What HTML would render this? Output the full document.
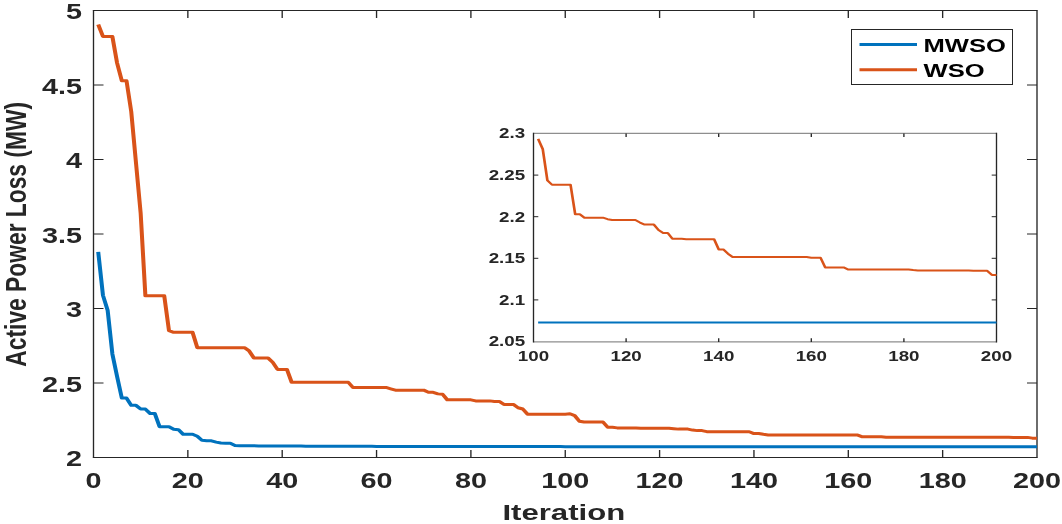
<!DOCTYPE html>
<html><head><meta charset="utf-8"><title>Active Power Loss vs Iteration</title>
<style>html,body{margin:0;padding:0;background:#fff;width:1062px;height:524px;overflow:hidden;font-family:"Liberation Sans",sans-serif;}svg{display:block;will-change:transform}</style>
</head><body>
<svg width="1062" height="524" viewBox="0 0 1062 524" font-family="Liberation Sans, sans-serif" font-weight="bold"><rect x="93.5" y="10.5" width="943.5" height="447.0" fill="#fff"/>
<path d="M92.83 10.50H1037.67M92.83 457.50H1037.67M93.50 457.50H103.50M1037.00 457.50H1027.00M93.50 383.00H103.50M1037.00 383.00H1027.00M93.50 308.50H103.50M1037.00 308.50H1027.00M93.50 234.00H103.50M1037.00 234.00H1027.00M93.50 159.50H103.50M1037.00 159.50H1027.00M93.50 85.00H103.50M1037.00 85.00H1027.00M93.50 10.50H103.50M1037.00 10.50H1027.00" stroke="#262626" stroke-width="1" fill="none"/>
<path d="M93.50 10.50V457.50M1037.00 10.50V457.50M93.50 457.50V450.10M93.50 10.50V17.90M187.85 457.50V450.10M187.85 10.50V17.90M282.20 457.50V450.10M282.20 10.50V17.90M376.55 457.50V450.10M376.55 10.50V17.90M470.90 457.50V450.10M470.90 10.50V17.90M565.25 457.50V450.10M565.25 10.50V17.90M659.60 457.50V450.10M659.60 10.50V17.90M753.95 457.50V450.10M753.95 10.50V17.90M848.30 457.50V450.10M848.30 10.50V17.90M942.65 457.50V450.10M942.65 10.50V17.90M1037.00 457.50V450.10M1037.00 10.50V17.90" stroke="#262626" stroke-width="1.34" fill="none"/>
<g transform="scale(1.340,1)" fill="none" stroke-linejoin="round" stroke-linecap="butt">
<polyline points="73.30,24.51 76.82,36.43 80.34,36.43 83.86,36.43 87.38,62.95 90.90,80.83 94.42,80.83 97.94,111.67 101.46,162.48 104.98,213.44 108.50,295.84 112.02,295.84 115.54,295.84 119.06,295.84 122.58,295.84 126.10,330.70 129.62,332.34 133.15,332.34 136.67,332.34 140.19,332.34 143.71,332.34 147.23,347.69 150.75,347.69 154.27,347.69 157.79,347.69 161.31,347.69 164.83,347.69 168.35,347.69 171.87,347.69 175.39,347.69 178.91,347.69 182.43,347.69 185.95,350.97 189.47,357.97 192.99,357.97 196.51,357.97 200.04,357.97 203.56,362.44 207.08,369.44 210.60,369.44 214.12,369.44 217.64,382.25 221.16,382.25 224.68,382.25 228.20,382.25 231.72,382.25 235.24,382.25 238.76,382.25 242.28,382.25 245.80,382.25 249.32,382.25 252.84,382.25 256.36,382.25 259.88,382.25 263.40,387.47 266.93,387.47 270.45,387.47 273.97,387.47 277.49,387.47 281.01,387.47 284.53,387.47 288.05,387.47 291.57,388.81 295.09,390.15 298.61,390.15 302.13,390.15 305.65,390.15 309.17,390.15 312.69,390.15 316.21,390.15 319.73,392.30 323.25,392.30 326.77,393.88 330.29,394.18 333.82,399.84 337.34,399.84 340.86,399.84 344.38,399.84 347.90,399.84 351.42,399.84 354.94,400.88 358.46,400.88 361.98,400.88 365.50,400.88 369.02,401.48 372.54,401.48 376.06,404.46 379.58,404.46 383.10,404.46 386.62,407.73 390.14,409.00 393.66,414.14 397.18,414.14 400.71,414.14 404.23,414.14 407.75,414.14 411.27,414.14 414.79,414.14 418.31,414.14 421.83,414.14 425.35,413.77 428.87,415.60 432.39,421.20 435.91,421.98 439.43,421.98 442.95,421.98 446.47,421.98 449.99,421.98 453.51,427.25 457.03,427.25 460.55,427.88 464.07,427.88 467.60,427.88 471.12,427.88 474.64,427.88 478.16,428.15 481.68,428.30 485.20,428.30 488.72,428.30 492.24,428.30 495.76,428.30 499.28,428.30 502.80,428.74 506.32,429.12 509.84,429.12 513.36,429.12 516.88,430.08 520.40,430.61 523.92,430.61 527.44,431.63 530.96,431.63 534.49,431.63 538.01,431.72 541.53,431.72 545.05,431.72 548.57,431.72 552.09,431.72 555.61,431.72 559.13,431.72 562.65,433.56 566.17,433.56 569.69,434.33 573.21,434.91 576.73,434.91 580.25,434.91 583.77,434.91 587.29,434.91 590.81,434.91 594.33,434.91 597.85,434.91 601.38,434.91 604.90,434.91 608.42,434.91 611.94,434.91 615.46,434.91 618.98,434.91 622.50,434.91 626.02,434.91 629.54,434.91 633.06,435.05 636.58,435.05 640.10,435.05 643.62,436.79 647.14,436.79 650.66,436.79 654.18,436.79 657.70,436.79 661.22,437.16 664.74,437.16 668.26,437.16 671.79,437.16 675.31,437.16 678.83,437.16 682.35,437.16 685.87,437.16 689.39,437.16 692.91,437.16 696.43,437.16 699.95,437.16 703.47,437.16 706.99,437.16 710.51,437.27 714.03,437.34 717.55,437.34 721.07,437.34 724.59,437.34 728.11,437.34 731.63,437.34 735.15,437.34 738.68,437.34 742.20,437.34 745.72,437.34 749.24,437.34 752.76,437.34 756.28,437.39 759.80,437.39 763.32,437.39 766.84,437.39 770.36,438.13 773.88,438.13" stroke="#D95319" stroke-width="3"/>
<polyline points="73.30,251.88 76.82,295.24 80.34,310.44 83.86,353.95 87.38,376.44 90.90,398.05 94.42,398.05 97.94,405.35 101.46,405.35 104.98,409.07 108.50,409.07 112.02,413.55 115.54,413.55 119.06,426.66 122.58,426.66 126.10,426.66 129.62,429.19 133.15,429.70 136.67,434.26 140.19,434.26 143.71,434.26 147.23,436.30 150.75,440.36 154.27,440.81 157.79,440.81 161.31,442.15 164.83,443.05 168.35,443.20 171.87,443.20 175.39,445.43 178.91,445.80 182.43,445.80 185.95,445.80 189.47,445.80 192.99,445.95 196.51,445.95 200.04,445.95 203.56,445.95 207.08,445.95 210.60,445.95 214.12,445.95 217.64,445.95 221.16,445.95 224.68,445.95 228.20,446.18 231.72,446.18 235.24,446.18 238.76,446.18 242.28,446.18 245.80,446.18 249.32,446.18 252.84,446.18 256.36,446.18 259.88,446.18 263.40,446.18 266.93,446.18 270.45,446.18 273.97,446.18 277.49,446.18 281.01,446.40 284.53,446.40 288.05,446.40 291.57,446.40 295.09,446.40 298.61,446.40 302.13,446.40 305.65,446.40 309.17,446.40 312.69,446.40 316.21,446.40 319.73,446.40 323.25,446.40 326.77,446.40 330.29,446.40 333.82,446.40 337.34,446.40 340.86,446.40 344.38,446.40 347.90,446.40 351.42,446.55 354.94,446.55 358.46,446.55 361.98,446.55 365.50,446.55 369.02,446.55 372.54,446.55 376.06,446.55 379.58,446.55 383.10,446.55 386.62,446.55 390.14,446.55 393.66,446.55 397.18,446.55 400.71,446.55 404.23,446.55 407.75,446.55 411.27,446.55 414.79,446.55 418.31,446.55 421.83,446.64 425.35,446.64 428.87,446.64 432.39,446.64 435.91,446.64 439.43,446.64 442.95,446.64 446.47,446.64 449.99,446.64 453.51,446.64 457.03,446.64 460.55,446.64 464.07,446.64 467.60,446.64 471.12,446.64 474.64,446.64 478.16,446.64 481.68,446.64 485.20,446.64 488.72,446.64 492.24,446.64 495.76,446.64 499.28,446.64 502.80,446.64 506.32,446.64 509.84,446.64 513.36,446.64 516.88,446.64 520.40,446.64 523.92,446.64 527.44,446.64 530.96,446.64 534.49,446.64 538.01,446.64 541.53,446.64 545.05,446.64 548.57,446.64 552.09,446.64 555.61,446.64 559.13,446.64 562.65,446.64 566.17,446.64 569.69,446.64 573.21,446.64 576.73,446.64 580.25,446.64 583.77,446.64 587.29,446.64 590.81,446.64 594.33,446.64 597.85,446.64 601.38,446.64 604.90,446.64 608.42,446.64 611.94,446.64 615.46,446.64 618.98,446.64 622.50,446.64 626.02,446.64 629.54,446.64 633.06,446.64 636.58,446.64 640.10,446.64 643.62,446.64 647.14,446.64 650.66,446.64 654.18,446.64 657.70,446.64 661.22,446.64 664.74,446.64 668.26,446.64 671.79,446.64 675.31,446.64 678.83,446.64 682.35,446.64 685.87,446.64 689.39,446.64 692.91,446.64 696.43,446.64 699.95,446.64 703.47,446.64 706.99,446.64 710.51,446.64 714.03,446.64 717.55,446.64 721.07,446.64 724.59,446.64 728.11,446.64 731.63,446.64 735.15,446.64 738.68,446.64 742.20,446.64 745.72,446.64 749.24,446.64 752.76,446.64 756.28,446.64 759.80,446.64 763.32,446.64 766.84,446.64 770.36,446.64 773.88,446.64" stroke="#0072BD" stroke-width="3"/>
</g>
<text transform="translate(93.50,488.30) scale(1.340,1)" font-size="21.50" text-anchor="middle" fill="#262626">0</text>
<text transform="translate(187.85,488.30) scale(1.340,1)" font-size="21.50" text-anchor="middle" fill="#262626">20</text>
<text transform="translate(282.20,488.30) scale(1.340,1)" font-size="21.50" text-anchor="middle" fill="#262626">40</text>
<text transform="translate(376.55,488.30) scale(1.340,1)" font-size="21.50" text-anchor="middle" fill="#262626">60</text>
<text transform="translate(470.90,488.30) scale(1.340,1)" font-size="21.50" text-anchor="middle" fill="#262626">80</text>
<text transform="translate(565.25,488.30) scale(1.340,1)" font-size="21.50" text-anchor="middle" fill="#262626">100</text>
<text transform="translate(659.60,488.30) scale(1.340,1)" font-size="21.50" text-anchor="middle" fill="#262626">120</text>
<text transform="translate(753.95,488.30) scale(1.340,1)" font-size="21.50" text-anchor="middle" fill="#262626">140</text>
<text transform="translate(848.30,488.30) scale(1.340,1)" font-size="21.50" text-anchor="middle" fill="#262626">160</text>
<text transform="translate(942.65,488.30) scale(1.340,1)" font-size="21.50" text-anchor="middle" fill="#262626">180</text>
<text transform="translate(1037.00,488.30) scale(1.340,1)" font-size="21.50" text-anchor="middle" fill="#262626">200</text>
<text transform="translate(82.00,466.30) scale(1.340,1)" font-size="21.50" text-anchor="end" fill="#262626">2</text>
<text transform="translate(82.00,391.80) scale(1.340,1)" font-size="21.50" text-anchor="end" fill="#262626">2.5</text>
<text transform="translate(82.00,317.30) scale(1.340,1)" font-size="21.50" text-anchor="end" fill="#262626">3</text>
<text transform="translate(82.00,242.80) scale(1.340,1)" font-size="21.50" text-anchor="end" fill="#262626">3.5</text>
<text transform="translate(82.00,168.30) scale(1.340,1)" font-size="21.50" text-anchor="end" fill="#262626">4</text>
<text transform="translate(82.00,93.80) scale(1.340,1)" font-size="21.50" text-anchor="end" fill="#262626">4.5</text>
<text transform="translate(82.00,19.30) scale(1.340,1)" font-size="21.50" text-anchor="end" fill="#262626">5</text>
<text transform="translate(563.80,520.30) scale(1.390,1)" font-size="22.40" text-anchor="middle" fill="#262626">Iteration</text>
<text transform="translate(25.8,234.3) scale(1.320,1) rotate(-90)" font-size="22.8" text-anchor="middle" fill="#262626">Active Power Loss (MW)</text>
<rect x="533.5" y="133.5" width="463.0" height="208.0" fill="#fff"/>
<path d="M533.50 133.40H996.50M533.50 341.90H996.50" stroke="#8e8e8e" stroke-width="1.4" fill="none"/>
<path d="M533.50 299.90H538.30M996.50 299.90H991.70M533.50 258.30H538.30M996.50 258.30H991.70M533.50 216.70H538.30M996.50 216.70H991.70M533.50 175.10H538.30M996.50 175.10H991.70" stroke="#262626" stroke-width="1" fill="none"/>
<path d="M533.50 341.90V338.30M533.50 133.40V137.00M626.10 341.90V338.30M626.10 133.40V137.00M718.70 341.90V338.30M718.70 133.40V137.00M811.30 341.90V338.30M811.30 133.40V137.00M903.90 341.90V338.30M903.90 133.40V137.00M996.50 341.90V338.30M996.50 133.40V137.00M533.50 132.80V342.50M996.50 132.80V342.50" stroke="#262626" stroke-width="1.34" fill="none"/>
<g transform="scale(1.340,1)" fill="none" stroke-linejoin="round">
<polyline points="401.59,138.91 405.04,149.14 408.50,180.42 411.96,184.75 415.41,184.75 418.87,184.75 422.32,184.75 425.78,184.75 429.23,214.20 432.69,214.20 436.14,217.70 439.60,217.70 443.05,217.70 446.51,217.70 449.96,217.70 453.42,219.20 456.87,220.03 460.33,220.03 463.78,220.03 467.24,220.03 470.69,220.03 474.15,220.03 477.60,222.52 481.06,224.60 484.51,224.60 487.97,224.60 491.43,230.01 494.88,232.92 498.34,232.92 501.79,238.66 505.25,238.66 508.70,238.66 512.16,239.16 515.61,239.16 519.07,239.16 522.52,239.16 525.98,239.16 529.43,239.16 532.89,239.16 536.34,249.40 539.80,249.40 543.25,253.72 546.71,256.97 550.16,256.97 553.62,256.97 557.07,256.97 560.53,256.97 563.99,256.97 567.44,256.97 570.90,256.97 574.35,256.97 577.81,256.97 581.26,256.97 584.72,256.97 588.17,256.97 591.63,256.97 595.08,256.97 598.54,256.97 601.99,256.97 605.45,257.72 608.90,257.72 612.36,257.72 615.81,267.45 619.27,267.45 622.72,267.45 626.18,267.45 629.63,267.45 633.09,269.53 636.54,269.53 640.00,269.53 643.46,269.53 646.91,269.53 650.37,269.53 653.82,269.53 657.28,269.53 660.73,269.53 664.19,269.53 667.64,269.53 671.10,269.53 674.55,269.53 678.01,269.53 681.46,270.11 684.92,270.53 688.37,270.53 691.83,270.53 695.28,270.53 698.74,270.53 702.19,270.53 705.65,270.53 709.10,270.53 712.56,270.53 716.01,270.53 719.47,270.53 722.93,270.53 726.38,270.78 729.84,270.78 733.29,270.78 736.75,270.78 740.20,274.94 743.66,274.94" stroke="#D95319" stroke-width="2"/>
<polyline points="401.59,322.45 405.04,322.45 408.50,322.45 411.96,322.45 415.41,322.45 418.87,322.45 422.32,322.45 425.78,322.45 429.23,322.45 432.69,322.45 436.14,322.45 439.60,322.45 443.05,322.45 446.51,322.45 449.96,322.45 453.42,322.45 456.87,322.45 460.33,322.45 463.78,322.45 467.24,322.45 470.69,322.45 474.15,322.45 477.60,322.45 481.06,322.45 484.51,322.45 487.97,322.45 491.43,322.45 494.88,322.45 498.34,322.45 501.79,322.45 505.25,322.45 508.70,322.45 512.16,322.45 515.61,322.45 519.07,322.45 522.52,322.45 525.98,322.45 529.43,322.45 532.89,322.45 536.34,322.45 539.80,322.45 543.25,322.45 546.71,322.45 550.16,322.45 553.62,322.45 557.07,322.45 560.53,322.45 563.99,322.45 567.44,322.45 570.90,322.45 574.35,322.45 577.81,322.45 581.26,322.45 584.72,322.45 588.17,322.45 591.63,322.45 595.08,322.45 598.54,322.45 601.99,322.45 605.45,322.45 608.90,322.45 612.36,322.45 615.81,322.45 619.27,322.45 622.72,322.45 626.18,322.45 629.63,322.45 633.09,322.45 636.54,322.45 640.00,322.45 643.46,322.45 646.91,322.45 650.37,322.45 653.82,322.45 657.28,322.45 660.73,322.45 664.19,322.45 667.64,322.45 671.10,322.45 674.55,322.45 678.01,322.45 681.46,322.45 684.92,322.45 688.37,322.45 691.83,322.45 695.28,322.45 698.74,322.45 702.19,322.45 705.65,322.45 709.10,322.45 712.56,322.45 716.01,322.45 719.47,322.45 722.93,322.45 726.38,322.45 729.84,322.45 733.29,322.45 736.75,322.45 740.20,322.45 743.66,322.45" stroke="#0072BD" stroke-width="2"/>
</g>
<text transform="translate(533.50,360.50) scale(1.340,1)" font-size="14.00" text-anchor="middle" fill="#262626">100</text>
<text transform="translate(626.10,360.50) scale(1.340,1)" font-size="14.00" text-anchor="middle" fill="#262626">120</text>
<text transform="translate(718.70,360.50) scale(1.340,1)" font-size="14.00" text-anchor="middle" fill="#262626">140</text>
<text transform="translate(811.30,360.50) scale(1.340,1)" font-size="14.00" text-anchor="middle" fill="#262626">160</text>
<text transform="translate(903.90,360.50) scale(1.340,1)" font-size="14.00" text-anchor="middle" fill="#262626">180</text>
<text transform="translate(996.50,360.50) scale(1.340,1)" font-size="14.00" text-anchor="middle" fill="#262626">200</text>
<text transform="translate(525.20,346.40) scale(1.340,1)" font-size="14.00" text-anchor="end" fill="#262626">2.05</text>
<text transform="translate(525.20,304.80) scale(1.340,1)" font-size="14.00" text-anchor="end" fill="#262626">2.1</text>
<text transform="translate(525.20,263.20) scale(1.340,1)" font-size="14.00" text-anchor="end" fill="#262626">2.15</text>
<text transform="translate(525.20,221.60) scale(1.340,1)" font-size="14.00" text-anchor="end" fill="#262626">2.2</text>
<text transform="translate(525.20,180.00) scale(1.340,1)" font-size="14.00" text-anchor="end" fill="#262626">2.25</text>
<text transform="translate(525.20,138.40) scale(1.340,1)" font-size="14.00" text-anchor="end" fill="#262626">2.3</text>
<rect x="851.5" y="29.5" width="161.0" height="55.0" fill="#fff" stroke="#262626" stroke-width="1"/>
<g transform="scale(1.340,1)"><path d="M641.42 44.6H684.33" stroke="#0072BD" stroke-width="3"/><path d="M641.42 69.7H684.33" stroke="#D95319" stroke-width="3"/></g>
<text transform="translate(923.50,52.40) scale(1.360,1)" font-size="18.80" text-anchor="start" fill="#000">MWSO</text>
<text transform="translate(923.50,77.40) scale(1.360,1)" font-size="18.80" text-anchor="start" fill="#000">WSO</text></svg>
</body></html>
